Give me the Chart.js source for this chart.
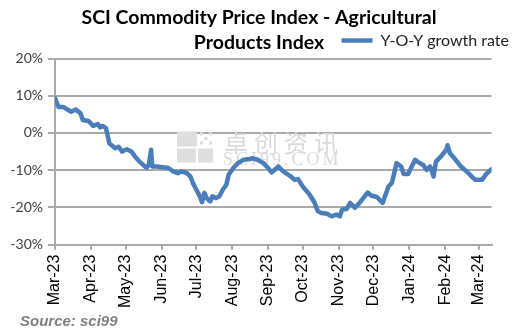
<!DOCTYPE html>
<html><head><meta charset="utf-8">
<script src="https://cdn.jsdelivr.net/npm/chart.js@4"></script>
<style>html,body{margin:0;padding:0;background:#fff}</style>
</head><body>
<canvas id="c" width="527" height="336"></canvas>
<script>
const titleLines = ['SCI Commodity Price Index - Agricultural', 'Products Index'];
const seriesName = 'Y-O-Y growth rate';
const sourceText = 'Source: sci99';
const watermarkCN = '卓创资讯';
const watermarkEN = 'SCI99.COM';
const axisStart = '2023-03-01';
const axisEnd = '2024-03-12';
const tickDates = ['2023-03-01','2023-04-01','2023-05-01','2023-06-01','2023-07-01','2023-08-01','2023-09-01','2023-10-01','2023-11-01','2023-12-01','2024-01-01','2024-02-01','2024-03-01'];
const tickLabels = ['Mar-23','Apr-23','May-23','Jun-23','Jul-23','Aug-23','Sep-23','Oct-23','Nov-23','Dec-23','Jan-24','Feb-24','Mar-24'];
const yTicks = [-30, -20, -10, 0, 10, 20];
const dates = [
 '2023-03-01','2023-03-04','2023-03-08','2023-03-15','2023-03-19','2023-03-23','2023-03-25','2023-03-30',
 '2023-04-03','2023-04-07','2023-04-09','2023-04-11','2023-04-14','2023-04-17','2023-04-22','2023-04-25','2023-04-28',
 '2023-05-02','2023-05-06','2023-05-09','2023-05-13','2023-05-19','2023-05-21','2023-05-23','2023-05-24','2023-05-28',
 '2023-06-02','2023-06-07','2023-06-11','2023-06-15','2023-06-18','2023-06-23','2023-06-26','2023-06-28',
 '2023-07-01','2023-07-04','2023-07-06','2023-07-08','2023-07-10','2023-07-13','2023-07-15','2023-07-18','2023-07-21','2023-07-24','2023-07-27','2023-07-29',
 '2023-08-02','2023-08-06','2023-08-11','2023-08-16','2023-08-19','2023-08-23','2023-08-28',
 '2023-09-01','2023-09-04','2023-09-10','2023-09-14','2023-09-20','2023-09-24','2023-09-27',
 '2023-10-01','2023-10-07','2023-10-11','2023-10-14','2023-10-17','2023-10-22','2023-10-26','2023-10-30',
 '2023-11-02','2023-11-04','2023-11-08','2023-11-11','2023-11-15','2023-11-19','2023-11-26','2023-11-29',
 '2023-12-04','2023-12-09','2023-12-14','2023-12-17','2023-12-21','2023-12-25','2023-12-27','2023-12-31',
 '2024-01-06','2024-01-09','2024-01-13','2024-01-16','2024-01-19','2024-01-22','2024-01-24','2024-01-29',
 '2024-02-02','2024-02-03','2024-02-05','2024-02-10','2024-02-14','2024-02-21','2024-02-24','2024-02-27','2024-03-04','2024-03-07','2024-03-12'
];
const values = [
 9.3,7.0,7.0,5.7,6.3,5.3,3.5,3.2,
 1.9,2.4,1.5,1.9,1.3,-2.8,-4.1,-3.7,-5.0,
 -4.4,-5.0,-6.3,-7.7,-9.4,-8.6,-4.5,-9.0,-9.0,
 -9.2,-9.4,-10.3,-10.8,-10.3,-10.8,-11.7,-13.4,
 -15.2,-17.0,-18.6,-16.1,-17.5,-18.4,-17.0,-17.5,-17.0,-15.2,-13.9,-11.2,
 -9.4,-8.1,-7.2,-7.0,-6.8,-7.2,-8.1,
 -9.4,-10.6,-9.0,-10.3,-11.5,-12.6,-12.4,
 -14.4,-16.6,-18.6,-21.0,-21.5,-21.7,-22.4,-21.9,
 -22.4,-20.6,-20.4,-18.8,-20.1,-18.8,-16.0,-16.8,
 -17.2,-18.8,-14.4,-13.4,-8.1,-9.0,-11.0,-11.0,
 -7.2,-7.9,-8.6,-9.9,-9.0,-11.7,-7.7,-6.1,
 -4.5,-3.3,-5.4,-7.2,-8.8,-10.8,-11.7,-12.6,-12.6,-11.2,-9.7
];

const DAY = 86400000;
const dayIndex = d => Math.round((Date.parse(d) - Date.parse(axisStart)) / DAY);
const points = dates.map((d, i) => ({ x: dayIndex(d), y: values[i] }));

const gridColor = '#a9a9a9';
const lineColor = '#4a7ebb';

const decorations = {
  id: 'decorations',
  beforeDatasetsDraw(chart) {
    const ctx = chart.ctx;
    const a = chart.chartArea;
    const ox = a.left + 122, oy = a.top + 73;
    ctx.save();
    ctx.fillStyle = '#dedede';
    ctx.fillRect(ox, oy, 20, 15);
    ctx.fillRect(ox, oy + 17, 19, 14);
    ctx.fillRect(ox + 21, oy + 17, 15, 14);
    for (let r = 0; r < 3; r++) for (let c = 0; c < 3; c++) {
      if ((r + c) % 2 === 0) ctx.fillRect(ox + 23 + c * 4.5, oy + 1 + r * 4.5, 3, 3);
    }
    ctx.fillStyle = '#dadada';
    ctx.textBaseline = 'middle';
    ctx.textAlign = 'left';
    ctx.font = '24px "Noto Sans CJK SC"';
    ctx.letterSpacing = '6px';
    ctx.fillText(watermarkCN, ox + 47, oy + 11);
    ctx.font = '18px "Liberation Serif"';
    ctx.letterSpacing = '3px';
    ctx.fillText(watermarkEN, ox + 46, oy + 29);
    ctx.restore();
  },
  afterDraw(chart) {
    const ctx = chart.ctx;
    ctx.save();
    ctx.fillStyle = '#808080';
    ctx.font = 'italic bold 15px "Liberation Sans"';
    ctx.textBaseline = 'middle';
    ctx.textAlign = 'left';
    ctx.fillText(sourceText, 20, 322);
    ctx.restore();
  }
};

new Chart(document.getElementById('c'), {
  type: 'line',
  data: {
    datasets: [{
      label: seriesName,
      data: points,
      borderColor: lineColor,
      backgroundColor: lineColor,
      borderWidth: 4.5,
      borderJoinStyle: 'round',
      borderCapStyle: 'round',
      pointRadius: 0,
      tension: 0,
      fill: false
    }]
  },
  options: {
    responsive: false,
    animation: false,
    devicePixelRatio: 1,
    layout: { padding: { left: 3, right: 12, top: 0, bottom: 23 } },
    plugins: {
      title: {
        display: true, text: titleLines, color: '#000',
        font: { family: 'Lato', size: 19.5, weight: 'bold', lineHeight: 1.25 },
        padding: { top: 6, bottom: -28.25 }
      },
      legend: {
        display: true, position: 'top', align: 'end',
        labels: {
          usePointStyle: true, pointStyle: 'line', pointStyleWidth: 31, boxHeight: 16,
          textAlign: 'left', color: '#1f1f1f', font: { family: 'Lato', size: 16 }, padding: 6
        }
      },
      tooltip: { enabled: false }
    },
    scales: {
      x: {
        type: 'linear',
        min: dayIndex(axisStart), max: dayIndex(axisEnd),
        afterBuildTicks: s => { s.ticks = tickDates.map(d => ({ value: dayIndex(d) })); },
        afterFit: s => { s.paddingRight = 35.5; },
        ticks: {
          autoSkip: false, minRotation: 90, maxRotation: 90, padding: 5, color: '#000',
          font: { family: 'Liberation Sans', size: 16 },
          callback: (v, i) => tickLabels[i]
        },
        grid: { drawOnChartArea: false, drawTicks: true, tickLength: 5, color: gridColor, lineWidth: 2 },
        border: { color: gridColor, width: 2 }
      },
      y: {
        min: -30, max: 20,
        afterBuildTicks: s => { s.ticks = yTicks.map(v => ({ value: v })); },
        afterFit: s => { s.width = 52; },
        ticks: { callback: v => v + '%', color: '#404040', font: { family: 'Lato', size: 14 }, padding: 5 },
        grid: { color: gridColor, lineWidth: 2, tickLength: 7 },
        border: { color: gridColor, width: 2 }
      }
    }
  },
  plugins: [decorations]
});
</script>
</body></html>
